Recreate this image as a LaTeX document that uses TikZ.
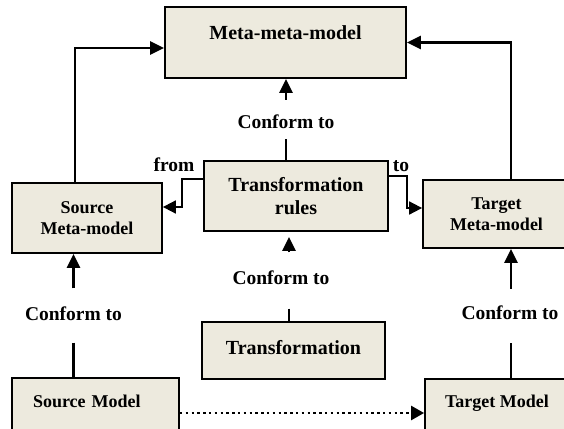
\documentclass[tikz,border=0pt]{standalone}
\usepackage{fontspec}
\setmainfont{Liberation Serif}
\usetikzlibrary{arrows.meta, calc}
\definecolor{boxfill}{RGB}{237,234,222}
\tikzstyle{box} = [draw=black, line width=1.8pt, fill=boxfill, inner sep=0,
    align=center, font=\fontsize{18}{21.5}\selectfont\bfseries]
\tikzstyle{big} = [font=\fontsize{20}{23}\selectfont\bfseries]
\tikzstyle{conform} = [inner sep=0, font=\fontsize{19.5}{22}\selectfont\bfseries]
\tikzstyle{link} = [line width=2.6pt, -{Triangle[length=14pt,width=13pt]}]
\tikzstyle{thinlink} = [line width=1.8pt, -{Triangle[length=13pt,width=13pt]}]
\tikzstyle{stub} = [line width=2.6pt]
\tikzstyle{dotlink} = [line width=2.4pt, dash pattern=on 2.4pt off 3.4pt,
    -{Triangle[length=13pt,width=14pt]}]

\begin{document}
\begin{tikzpicture}[x=1pt, y=-1pt]
\useasboundingbox (0,0) rectangle (564,428);

    % 1. The boxes
    \node[box, big, minimum width=241pt, minimum height=71pt, text depth=19.5pt] (mmm) at (285.5,42.5) {Meta-meta-model};
    \node[box, big, minimum width=184pt, minimum height=70pt] (rules) at (296,196) {Transformation\\rules};
    \node[box, minimum width=150pt, minimum height=70pt] (smeta) at (87,218) {Source\\Meta-model};
    \node[box, minimum width=147pt, minimum height=68pt] (tmeta) at (496.5,214) {Target\\Meta-model};
    \node[box, big, minimum width=183pt, minimum height=57pt, text depth=7pt] (trans) at (293.5,350.5) {Transformation};
    \node[box, minimum width=167pt, minimum height=70pt, text width=125pt, align=left, text depth=24.4pt] (smodel) at (95.5,413) {Source Model};
    \node[box, minimum width=144pt, minimum height=68pt, text depth=24.4pt] (tmodel) at (497,413) {Target Model};

    % 2. The labels
    \node[conform] (c0) at (286,121.7) {Conform to};
    \node[conform] (c1) at (73.5,313.5) {Conform to};
    \node[conform] (c2) at (281,277.5) {Conform to};
    \node[conform] (c3) at (510,313) {Conform to};
    \node[conform] (from) at (174,165) {from};
    \node[conform] (to) at (401,166) {to};

%%% CONFORM TO
\draw[link, shorten <=15pt] (c0.north) -- (c0.north |- mmm.south);
\draw[stub, shorten <=10.6pt] (c0.south) -- (c0.south |- rules.north);

\draw[link, shorten <=18pt] (c1.north) -- (c1.north |- smeta.south);
\draw[stub, shorten <=22pt] (c1.south) -- (c1.south |- smodel.north);

\draw[link, shorten <=18pt, shorten >=5pt] ([xshift=8pt]c2.north) -- ([xshift=8pt]c2.north |- rules.south);
\draw[stub, shorten <=24pt] ([xshift=8pt]c2.south) -- ([xshift=8pt]c2.south |- trans.north);

\draw[link, shorten <=17pt] ([xshift=1pt]c3.north) -- ([xshift=1pt]c3.north |- tmeta.south);
\draw[stub, shorten <=23pt] ([xshift=1pt]c3.south) -- ([xshift=1pt]c3.south |- tmodel.north);

%%% META-MODELS UP TO THE TOP
\draw[link] ([xshift=-12pt]smeta.north) |- ([yshift=-5.5pt]mmm.west);
\draw[link] ([xshift=14.5pt]tmeta.north) |- (mmm.east);

%%% FROM / TO
\draw[thinlink] ([yshift=-19pt]rules.north west) -- ++(-21,0) |- ([yshift=11pt]smeta.east);
\draw[thinlink] ([yshift=-16pt]rules.north east) -- ++(18,0) |- ([yshift=6pt]tmeta.west);

% source model to target model
\draw[dotlink] (smodel) -- (tmodel);

\end{tikzpicture}
\end{document}
